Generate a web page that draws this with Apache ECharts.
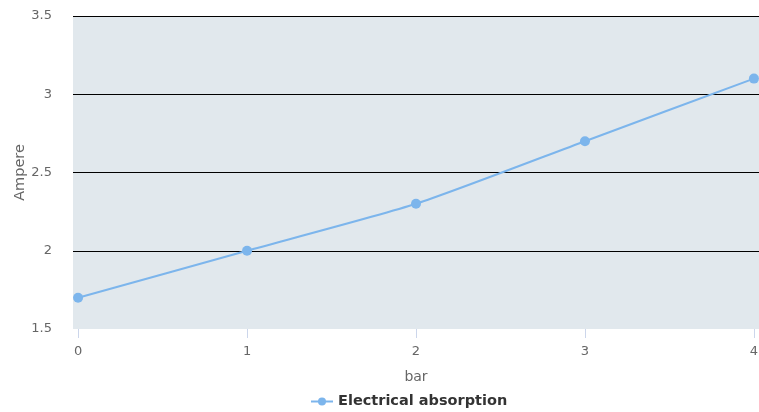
<!DOCTYPE html>
<html><head><meta charset="utf-8">
<script src="https://cdn.jsdelivr.net/npm/echarts@6/dist/echarts.min.js"></script>
<style>html,body{margin:0;padding:0;background:#fff}#c{width:759px;height:412px}</style>
</head><body><div id="c"></div>
<script>
const xValues = [0, 1, 2, 3, 4];
const yValues = [1.7, 2.0, 2.3, 2.7, 3.1];
const seriesName = 'Electrical absorption';
const xTicks = [0, 1, 2, 3, 4];

const chart = echarts.init(document.getElementById('c'));
const font = 'DejaVu Sans';
chart.setOption({
  animation: false,
  textStyle: { fontFamily: font },
  grid: { left: 73, right: 0, top: 16, bottom: 83, show: true, backgroundColor: '#e1e8ed', borderWidth: 0, outerBoundsMode: 'none', containLabel: false },
  xAxis: {
    type: 'value', min: -0.03, max: 4.03,
    name: 'bar', nameLocation: 'middle', nameGap: 41, nameMoveOverlap: false,
    nameTextStyle: { color: '#666', fontSize: 14, fontFamily: font },
    axisLine: { show: false },
    axisTick: { show: true, customValues: xTicks, length: 9, lineStyle: { color: '#ccd6eb' } },
    axisLabel: { customValues: xTicks, color: '#666', fontSize: 13, margin: 16, fontFamily: font },
    splitLine: { show: false }
  },
  yAxis: {
    type: 'value', min: 1.5, max: 3.5, interval: 0.5,
    name: 'Ampere', nameLocation: 'middle', nameGap: 45, nameRotate: 90, nameMoveOverlap: false,
    nameTextStyle: { color: '#666', fontSize: 14.5, fontFamily: font },
    axisLine: { show: false }, axisTick: { show: false },
    axisLabel: { color: '#666', fontSize: 13, margin: 21, fontFamily: font },
    splitLine: { show: true, showMinLine: false, lineStyle: { color: '#000', width: 1 } }
  },
  legend: {
    top: 389, left: 305, itemWidth: 22, itemHeight: 10, itemGap: 6,
    textStyle: { color: '#333', fontSize: 14.5, fontWeight: 'bold', fontFamily: font },
    data: [seriesName]
  },
  series: [{
    name: seriesName, type: 'line', smooth: 0.2,
    data: xValues.map((x, i) => [x, yValues[i]]),
    symbol: 'circle', symbolSize: 10,
    lineStyle: { color: '#7cb5ec', width: 2 },
    itemStyle: { color: '#7cb5ec' }
  }]
});
</script></body></html>
